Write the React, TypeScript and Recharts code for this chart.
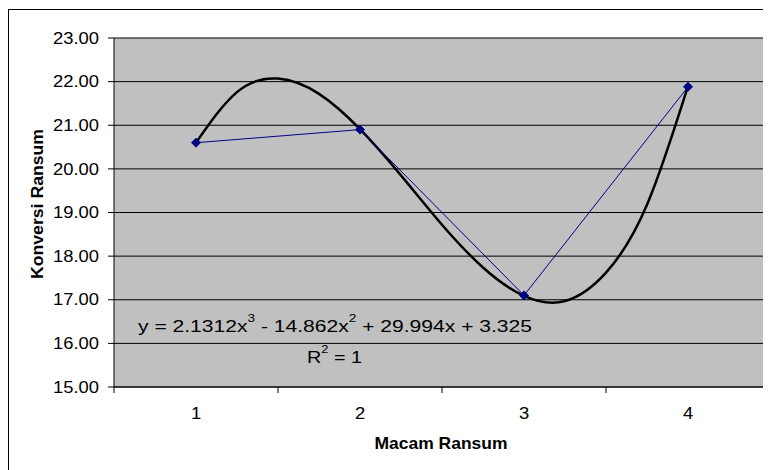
import { ComposedChart, Line, XAxis, YAxis, CartesianGrid, ReferenceLine } from 'recharts';

// data
const macamRansum = [1, 2, 3, 4];
const konversiRansum = [20.6, 20.9, 17.1, 21.88];
const yTicks = [15, 16, 17, 18, 19, 20, 21, 22, 23];

// polynomial trendline
const trendX = [1, 1.25, 1.5, 1.75, 2, 2.25, 2.5, 2.75, 3, 3.25, 3.5, 3.75, 4];
const trendY = [20.6, 21.76, 22.07, 21.72, 20.91, 19.85, 18.72, 17.74, 17.09, 16.97, 17.62, 19.18, 21.9];

const xTitle = 'Macam Ransum';
const yTitle = 'Konversi Ransum';

const points = macamRansum.map((x, i) => ({ x, y: konversiRansum[i] }));
const trend = trendX.map((x, i) => ({ x, y: trendY[i] }));

// category labels plus the tick marks between categories
const boundaries = [...macamRansum.map((c) => c - 0.5), macamRansum[macamRansum.length - 1] + 0.5];
const xTicks = [...boundaries, ...macamRansum].sort((a, b) => a - b);

const FONT = '"Liberation Sans", Arial, sans-serif';
// the reference text is a little wider than plain Arial
const STRETCH = 1.15;

const XTick = (props: any) => {
  const { x, y, payload } = props;
  const v = payload.value;
  if (Number.isInteger(v)) {
    return (
      <text
        transform={`translate(${x},${y + 32}) scale(${STRETCH},1)`}
        textAnchor="middle"
        fontSize={16}
        fontFamily={FONT}
        fill="#000"
      >
        {v}
      </text>
    );
  }
  return <line x1={x} x2={x} y1={y} y2={y + 6} stroke="#000" strokeWidth={1} />;
};

const YTick = (props: any) => {
  const { x, y, payload } = props;
  return (
    <text
      transform={`translate(${x},${y}) scale(${STRETCH},1)`}
      textAnchor="end"
      dy="0.355em"
      fontSize={16}
      fontFamily={FONT}
      fill="#000"
    >
      {Number(payload.value).toFixed(2)}
    </text>
  );
};

const Diamond = (props: any) => {
  const { cx, cy } = props;
  if (cx == null || cy == null) return null;
  const r = 4.5;
  return (
    <polygon
      points={`${cx},${cy - r} ${cx + r},${cy} ${cx},${cy + r} ${cx - r},${cy}`}
      fill="#000080"
      stroke="#000080"
    />
  );
};

export default function App() {
  return (
    <div style={{ paddingTop: 1 }}>
      <div
        style={{
          position: 'relative',
          width: 763,
          height: 461,
          boxSizing: 'border-box',
          borderLeft: '1px solid #000',
          borderTop: '1px solid #000',
          background: '#fff',
          overflow: 'hidden',
        }}
      >
        <ComposedChart width={762} height={460} margin={{ top: 28, right: 1, left: 0, bottom: 43 }}>
          <CartesianGrid vertical={false} stroke="#000" fill="#c0c0c0" fillOpacity={1} />
          <XAxis
            type="number"
            dataKey="x"
            domain={[0.5, 4.5]}
            ticks={xTicks}
            interval={0}
            tick={<XTick />}
            tickLine={false}
            tickSize={0}
            tickMargin={0}
            height={40}
            axisLine={{ stroke: '#000' }}
            allowDataOverflow
          />
          <YAxis
            type="number"
            domain={[15, 23]}
            ticks={yTicks}
            interval={0}
            width={105}
            tickSize={6}
            tickMargin={9}
            tickLine={{ stroke: '#000' }}
            axisLine={{ stroke: '#000' }}
            tick={<YTick />}
          />
          <ReferenceLine x={4.5} stroke="#808080" />
          <Line
            data={trend}
            dataKey="y"
            type="natural"
            stroke="#000"
            strokeWidth={2.5}
            dot={false}
            activeDot={false}
            isAnimationActive={false}
          />
          <Line
            data={points}
            dataKey="y"
            type="linear"
            stroke="#000080"
            strokeWidth={1}
            dot={<Diamond />}
            activeDot={false}
            isAnimationActive={false}
          />
        </ComposedChart>
        <svg
          width={762}
          height={460}
          style={{ position: 'absolute', left: 0, top: 0, pointerEvents: 'none' }}
          fontFamily={FONT}
        >
          <text
            x={432}
            y={439}
            textAnchor="middle"
            fontSize={17}
            fontWeight="bold"
            fill="#000"
            textLength={133}
            lengthAdjust="spacingAndGlyphs"
          >
            {xTitle}
          </text>
          <text
            transform="translate(34,194) rotate(-90)"
            textAnchor="middle"
            fontSize={17}
            fontWeight="bold"
            fill="#000"
            textLength={150}
            lengthAdjust="spacingAndGlyphs"
          >
            {yTitle}
          </text>
          <text
            x={129}
            y={322}
            fontSize={17}
            fill="#000"
            textLength={394}
            lengthAdjust="spacingAndGlyphs"
          >
            y = 2.1312x
            <tspan dy={-10} fontSize={11}>3</tspan>
            <tspan dy={10}> - 14.862x</tspan>
            <tspan dy={-10} fontSize={11}>2</tspan>
            <tspan dy={10}> + 29.994x + 3.325</tspan>
          </text>
          <text
            x={298}
            y={353}
            fontSize={17}
            fill="#000"
            textLength={55}
            lengthAdjust="spacingAndGlyphs"
          >
            R
            <tspan dy={-10} fontSize={11}>2</tspan>
            <tspan dy={10}> = 1</tspan>
          </text>
        </svg>
      </div>
    </div>
  );
}
